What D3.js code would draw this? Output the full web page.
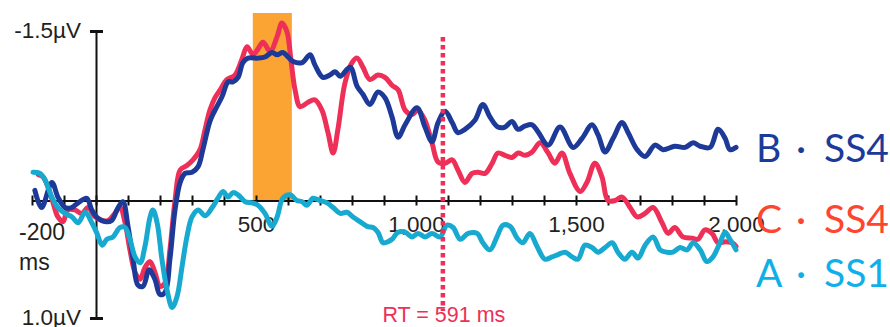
<!DOCTYPE html>
<html>
<head>
<meta charset="utf-8">
<script src="https://cdn.jsdelivr.net/npm/d3@7"></script>
<style>
  body { margin: 0; background: #fff; }
  svg { display: block; }
</style>
</head>
<body>
<svg width="890" height="327"></svg>
<script>
// ERP waveforms, [time in ms, amplitude in µV] (negative is plotted up)
const seriesB = [
  [-191, -0.09], [-170, 0.06], [-138, -0.16], [-119, -0.03], [-97, 0.06], [-76, 0.06],
  [-56, 0.02], [-29, -0.02], [-13, 0.08], [6, 0.15], [28, 0.18], [49, 0.17], [69, 0.06],
  [84, 0.01], [100, 0.22], [116, 0.50], [131, 0.72], [147, 0.73], [166, 0.59], [184, 0.67],
  [200, 0.80], [216, 0.78], [231, 0.50], [247, 0.08], [263, -0.16], [278, -0.24],
  [300, -0.25], [319, -0.30], [334, -0.45], [356, -0.70], [372, -0.80], [394, -0.92],
  [413, -1.05], [428, -1.05], [444, -1.09], [459, -1.22], [475, -1.26], [506, -1.26],
  [528, -1.27], [550, -1.31], [566, -1.29], [584, -1.31], [600, -1.27], [616, -1.23],
  [644, -1.22], [669, -1.29], [684, -1.20], [709, -1.09], [731, -1.11], [747, -1.14],
  [763, -1.10], [794, -1.18], [816, -1.01], [834, -0.94], [856, -0.85], [881, -0.96],
  [903, -0.91], [925, -0.74], [944, -0.56], [966, -0.67], [1003, -0.82], [1028, -0.65],
  [1050, -0.52], [1069, -0.69], [1091, -0.79], [1113, -0.69], [1131, -0.60], [1153, -0.63],
  [1184, -0.71], [1209, -0.85], [1231, -0.74], [1256, -0.65], [1278, -0.65], [1300, -0.70],
  [1319, -0.63], [1341, -0.66], [1363, -0.67], [1381, -0.61], [1413, -0.49], [1450, -0.65],
  [1491, -0.47], [1519, -0.55], [1550, -0.67], [1569, -0.58], [1591, -0.43], [1616, -0.55],
  [1644, -0.69], [1663, -0.60], [1691, -0.45], [1716, -0.39], [1747, -0.49], [1772, -0.45],
  [1809, -0.48], [1841, -0.47], [1866, -0.51], [1888, -0.48], [1919, -0.47], [1944, -0.63],
  [1966, -0.55], [1981, -0.45], [2000, -0.47]
];
const seriesC = [
  [-181, -0.23], [-166, -0.21], [-150, -0.12], [-134, 0.02], [-119, 0.14], [-103, 0.18],
  [-88, 0.08], [-66, 0.08], [-44, 0.11], [-25, 0.06], [-3, 0.14], [19, 0.17], [38, 0.17],
  [59, 0.11], [75, 0.06], [91, 0.19], [106, 0.42], [122, 0.61], [138, 0.67], [153, 0.57],
  [169, 0.52], [184, 0.61], [200, 0.73], [216, 0.70], [231, 0.42], [247, 0.00], [263, -0.27],
  [284, -0.31], [303, -0.36], [325, -0.45], [341, -0.63], [356, -0.80], [372, -0.91],
  [388, -0.98], [409, -1.07], [434, -1.11], [456, -1.25], [472, -1.36], [491, -1.29],
  [506, -1.34], [522, -1.40], [544, -1.32], [566, -1.45], [581, -1.57], [597, -1.49],
  [609, -1.25], [622, -0.98], [638, -0.83], [663, -0.87], [684, -0.89], [706, -0.80],
  [725, -0.60], [741, -0.42], [756, -0.63], [778, -1.04], [800, -1.22], [816, -1.26],
  [834, -1.18], [856, -1.07], [881, -1.11], [903, -1.09], [925, -1.02], [944, -0.98],
  [966, -0.80], [988, -0.76], [1006, -0.80], [1028, -0.71], [1050, -0.51], [1069, -0.34],
  [1091, -0.33], [1113, -0.36], [1131, -0.27], [1153, -0.16], [1175, -0.24], [1194, -0.25],
  [1216, -0.24], [1238, -0.33], [1256, -0.42], [1278, -0.40], [1300, -0.38], [1319, -0.42],
  [1341, -0.40], [1363, -0.43], [1388, -0.51], [1413, -0.42], [1434, -0.33], [1456, -0.42],
  [1481, -0.24], [1513, -0.08], [1534, -0.16], [1559, -0.33], [1581, -0.21], [1600, 0.00],
  [1622, 0.00], [1644, -0.03], [1669, 0.06], [1691, 0.14], [1716, 0.11], [1741, 0.06],
  [1769, 0.19], [1788, 0.28], [1809, 0.23], [1834, 0.31], [1863, 0.32], [1881, 0.33],
  [1903, 0.25], [1925, 0.28], [1944, 0.36], [1966, 0.35], [1988, 0.36], [2000, 0.39]
];
const seriesA = [
  [-197, -0.25], [-175, -0.24], [-159, -0.18], [-138, -0.03], [-119, 0.06], [-97, 0.11],
  [-75, 0.14], [-56, 0.19], [-34, 0.10], [-13, 0.19], [3, 0.28], [19, 0.38], [34, 0.33],
  [53, 0.31], [75, 0.23], [91, 0.23], [106, 0.33], [122, 0.48], [138, 0.53], [153, 0.39],
  [169, 0.14], [178, 0.08], [191, 0.19], [206, 0.50], [222, 0.76], [238, 0.91], [253, 0.82],
  [269, 0.56], [284, 0.31], [300, 0.14], [319, 0.08], [341, 0.13], [363, 0.06], [381, -0.02],
  [397, -0.08], [413, -0.03], [428, -0.07], [444, -0.05], [466, 0.01], [488, 0.02],
  [506, 0.04], [528, 0.11], [550, 0.22], [566, 0.14], [584, -0.02], [606, -0.05], [628, 0.00],
  [644, 0.01], [659, 0.04], [678, -0.02], [700, 0.00], [722, 0.02], [741, 0.06], [763, 0.11],
  [784, 0.10], [803, 0.14], [825, 0.18], [847, 0.22], [866, 0.23], [881, 0.27], [897, 0.36],
  [913, 0.35], [925, 0.33], [944, 0.27], [966, 0.27], [988, 0.31], [1006, 0.28], [1028, 0.31],
  [1050, 0.28], [1075, 0.31], [1097, 0.21], [1116, 0.23], [1138, 0.33], [1163, 0.28],
  [1191, 0.28], [1209, 0.36], [1231, 0.42], [1253, 0.31], [1272, 0.21], [1294, 0.22],
  [1316, 0.32], [1334, 0.36], [1356, 0.28], [1378, 0.39], [1403, 0.50], [1425, 0.48],
  [1444, 0.46], [1466, 0.44], [1488, 0.48], [1506, 0.50], [1528, 0.38], [1550, 0.40],
  [1569, 0.44], [1591, 0.40], [1613, 0.36], [1631, 0.44], [1653, 0.50], [1675, 0.44],
  [1694, 0.49], [1716, 0.38], [1741, 0.31], [1763, 0.42], [1784, 0.44], [1803, 0.44],
  [1825, 0.40], [1847, 0.42], [1866, 0.36], [1888, 0.42], [1909, 0.52], [1928, 0.48],
  [1950, 0.36], [1966, 0.27], [1981, 0.33], [2000, 0.42]
];

const xTickValues = d3.range(-200, 2001, 100);
const xTickLabels = [500, 1000, 1500, 2000];
const yTickValues = [-1.5, 1.0];
const highlightWindow = [490, 612];
const rtTime = 1084;
const rtLabel = 'RT = 591 ms';
const legendLetters = ['B', 'C', 'A'];
const legendSets = ['SS4', 'SS4', 'SS1'];

const lineColors = { A: '#17a9d0', B: '#1d3a98', C: '#ee2f57' };
const legendColors = { A: '#0fb0ea', B: '#1b3a9a', C: '#ff4430' };
const legendBaselines = [162, 233, 287];
const font = '"Liberation Sans", Arial, Helvetica, sans-serif';
const textColor = '#231f1d';

const svg = d3.select('svg');

const x = d3.scaleLinear().domain([-200, 2000]).range([32, 736]);
const y = d3.scaleLinear().domain([-1.5, 0, 1.0]).range([31, 200.5, 318]);

// highlighted window
svg.append('rect')
  .attr('x', x(highlightWindow[0]))
  .attr('width', x(highlightWindow[1]) - x(highlightWindow[0]))
  .attr('y', 13)
  .attr('height', y(0) - 13)
  .attr('fill', '#fba333');

// x axis
const gx = svg.append('g')
  .attr('transform', `translate(0,${y(0)})`)
  .call(d3.axisBottom(x)
    .tickValues(xTickValues)
    .tickSizeOuter(0)
    .tickFormat(d => xTickLabels.includes(d) ? d3.format(',')(d) : ''));
gx.attr('font-family', font).attr('font-size', 22.5);
gx.select('.domain').attr('stroke', '#111').attr('stroke-width', 2);
gx.selectAll('.tick line').attr('y1', -5).attr('y2', 5).attr('stroke', '#111').attr('stroke-width', 2);
gx.selectAll('.tick text').attr('y', 31.5).attr('dy', 0).attr('fill', textColor);

svg.append('text')
  .attr('x', 19).attr('y', 240)
  .attr('font-family', font).attr('font-size', 23).attr('fill', textColor)
  .text('-200');
svg.append('text')
  .attr('x', 19).attr('y', 270)
  .attr('font-family', font).attr('font-size', 23).attr('fill', textColor)
  .text('ms');

// y axis
const gy = svg.append('g')
  .attr('transform', `translate(${x(0)},0)`)
  .call(d3.axisLeft(y)
    .tickValues(yTickValues)
    .tickSizeOuter(0)
    .tickFormat(d => d.toFixed(1) + 'µV'));
gy.attr('font-family', font).attr('font-size', 22.5);
gy.select('.domain').attr('stroke', '#111').attr('stroke-width', 2);
gy.selectAll('.tick line').attr('x1', -6).attr('x2', 7).attr('stroke', '#111').attr('stroke-width', 3);
gy.selectAll('.tick text').attr('x', -15).attr('dy', '0.3em').attr('fill', textColor);

// waveforms
const line = d3.line()
  .x(d => x(d[0]))
  .y(d => y(d[1]))
  .curve(d3.curveCatmullRom.alpha(0.5));

[['C', seriesC], ['B', seriesB], ['A', seriesA]].forEach(([key, data]) => {
  svg.append('path')
    .datum(data)
    .attr('fill', 'none')
    .attr('stroke', lineColors[key])
    .attr('stroke-width', 5)
    .attr('stroke-linejoin', 'round')
    .attr('stroke-linecap', 'round')
    .attr('d', line);
});

// reaction time marker
svg.append('line')
  .attr('x1', x(rtTime)).attr('x2', x(rtTime))
  .attr('y1', 37).attr('y2', 311)
  .attr('stroke', '#ee2f57')
  .attr('stroke-width', 4.5)
  .attr('stroke-dasharray', '4.5,3.5');
svg.append('text')
  .attr('x', x(rtTime) + 1).attr('y', 322)
  .attr('text-anchor', 'middle')
  .attr('font-family', font).attr('font-size', 21.5)
  .attr('fill', '#ee2f57')
  .text(rtLabel);

// legend
legendLetters.forEach((k, i) => {
  const t = svg.append('text')
    .attr('y', legendBaselines[i])
    .attr('font-family', 'Lato, "Open Sans", sans-serif')
    .attr('font-size', 39)
    .attr('fill', legendColors[k]);
  t.append('tspan').attr('x', 756).text(k);
  t.append('tspan').attr('x', 796).text('·');
  t.append('tspan').attr('x', 824).text(legendSets[i]);
});
</script>
</body>
</html>
